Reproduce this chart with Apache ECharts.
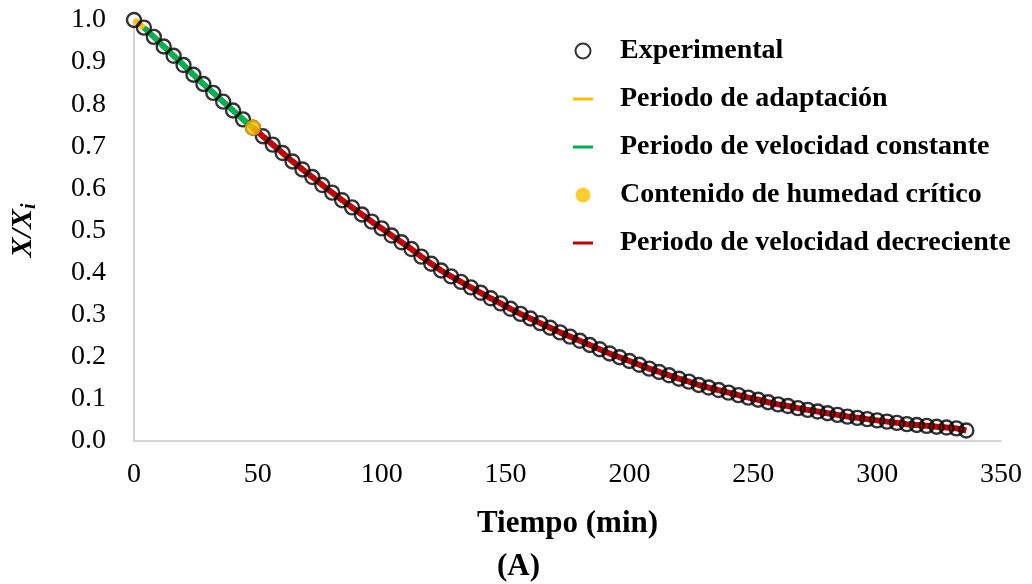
<!DOCTYPE html>
<html>
<head>
<meta charset="utf-8">
<script src="https://cdn.jsdelivr.net/npm/echarts@6/dist/echarts.min.js"></script>
<style>
  html, body { margin: 0; padding: 0; background: #fff; }
  #chart { width: 1032px; height: 584px; }
</style>
</head>
<body>
<div id="chart"></div>
<script>
// Drying time (min)
const tiempo = [
  0, 4, 8, 12, 16, 20, 24, 28, 32, 36, 40, 44, 48, 52, 56, 60, 64, 68, 72, 76,
  80, 84, 88, 92, 96, 100, 104, 108, 112, 116, 120, 124, 128, 132, 136, 140, 144, 148, 152, 156,
  160, 164, 168, 172, 176, 180, 184, 188, 192, 196, 200, 204, 208, 212, 216, 220, 224, 228, 232, 236,
  240, 244, 248, 252, 256, 260, 264, 268, 272, 276, 280, 284, 288, 292, 296, 300, 304, 308, 312, 316,
  320, 324, 328, 332, 336
];

// Dimensionless moisture content X/Xi
const humedad = [
  1.000, 0.982, 0.960, 0.937, 0.915, 0.893, 0.870, 0.848, 0.827, 0.806, 0.785, 0.764, 0.744, 0.724, 0.704, 0.684, 0.664, 0.645, 0.627, 0.608,
  0.590, 0.572, 0.555, 0.538, 0.521, 0.505, 0.488, 0.472, 0.456, 0.438, 0.421, 0.405, 0.391, 0.378, 0.365, 0.352, 0.339, 0.327, 0.314, 0.302,
  0.291, 0.280, 0.269, 0.258, 0.248, 0.238, 0.228, 0.218, 0.208, 0.199, 0.190, 0.181, 0.172, 0.164, 0.156, 0.148, 0.141, 0.133, 0.127, 0.121,
  0.115, 0.109, 0.103, 0.098, 0.092, 0.087, 0.083, 0.078, 0.074, 0.070, 0.066, 0.062, 0.058, 0.055, 0.052, 0.049, 0.046, 0.043, 0.040, 0.038,
  0.036, 0.034, 0.032, 0.030, 0.025
];

// Index ranges of each drying period (inclusive)
const adaptacion = [0, 1];
const constante = [1, 12];
const decreciente = [12, 84];
const critico = 12;

const FONT = 'Liberation Serif, Times New Roman, serif';

function tramo(r) {
  const out = [];
  for (let i = r[0]; i <= r[1]; i++) out.push([tiempo[i], humedad[i]]);
  return out;
}
const experimental = tiempo.map((t, i) => [t, humedad[i]]);

const lineIcon = 'path://M0,0H20V3H0Z';

const chart = echarts.init(document.getElementById('chart'), null, { renderer: 'canvas' });
chart.setOption({
  backgroundColor: '#fff',
  animation: false,
  grid: { left: 133, right: 31, top: 20, bottom: 143, containLabel: false },
  xAxis: {
    type: 'value', min: 0, max: 350, interval: 50,
    name: 'Tiempo (min)', nameLocation: 'middle', nameGap: 67,
    nameTextStyle: { fontFamily: FONT, fontWeight: 'bold', fontSize: 31, color: '#000' },
    axisLine: { show: true, lineStyle: { color: '#C6C6C6', width: 1.5 } },
    axisTick: { show: false },
    splitLine: { show: false },
    axisLabel: { fontFamily: FONT, fontSize: 28, color: '#000', margin: 20 }
  },
  yAxis: {
    type: 'value', min: 0, max: 1, interval: 0.1,
    name: '{a|X/X}{b|i}', nameLocation: 'middle', nameGap: 94, nameRotate: 90,
    nameTextStyle: {
      rich: {
        a: { fontFamily: FONT, fontWeight: 'bold', fontStyle: 'italic', fontSize: 30, color: '#000' },
        b: { fontFamily: FONT, fontWeight: 'bold', fontStyle: 'italic', fontSize: 20, color: '#000', padding: [14, 0, 0, 0] }
      }
    },
    axisLine: { show: true, lineStyle: { color: '#C6C6C6', width: 1.5 } },
    axisTick: { show: false },
    splitLine: { show: false },
    axisLabel: { fontFamily: FONT, fontSize: 28, color: '#000', margin: 28, formatter: v => v.toFixed(1) }
  },
  legend: {
    orient: 'vertical', left: 568, top: 32,
    itemWidth: 20, itemHeight: 15, itemGap: 20,
    textStyle: { fontFamily: FONT, fontWeight: 'bold', fontSize: 28, color: '#000', padding: [0, 0, 0, 22] },
    data: [
      { name: 'Experimental', icon: 'circle' },
      { name: 'Periodo de adaptación', icon: lineIcon },
      { name: 'Periodo de velocidad constante', icon: lineIcon },
      { name: 'Contenido de humedad crítico', icon: 'circle' },
      { name: 'Periodo de velocidad decreciente', icon: lineIcon }
    ]
  },
  graphic: [{
    type: 'text', left: 497, top: 551,
    style: { text: '(A)', font: 'bold 31px ' + FONT, fill: '#000' }
  }],
  series: [
    {
      name: 'Periodo de adaptación', type: 'line', data: tramo(adaptacion),
      symbol: 'none', color: '#FFC000', lineStyle: { width: 6, color: '#FFC000' }, z: 2
    },
    {
      name: 'Periodo de velocidad constante', type: 'line', data: tramo(constante),
      symbol: 'none', color: '#00B050', lineStyle: { width: 6, color: '#00B050' }, z: 2
    },
    {
      name: 'Periodo de velocidad decreciente', type: 'line', data: tramo(decreciente),
      symbol: 'none', color: '#C00000', lineStyle: { width: 6, color: '#C00000' }, z: 2
    },
    {
      name: 'Experimental', type: 'scatter', data: experimental,
      symbol: 'circle', symbolSize: 14,
      itemStyle: { color: 'rgba(255,255,255,0)', borderColor: '#000', borderWidth: 2.4 }, z: 3
    },
    {
      name: 'Contenido de humedad crítico', type: 'scatter', data: [[tiempo[critico], humedad[critico]]],
      symbol: 'circle', symbolSize: 16,
      itemStyle: { color: '#FFC000' }, z: 4
    }
  ]
});
</script>
</body>
</html>
